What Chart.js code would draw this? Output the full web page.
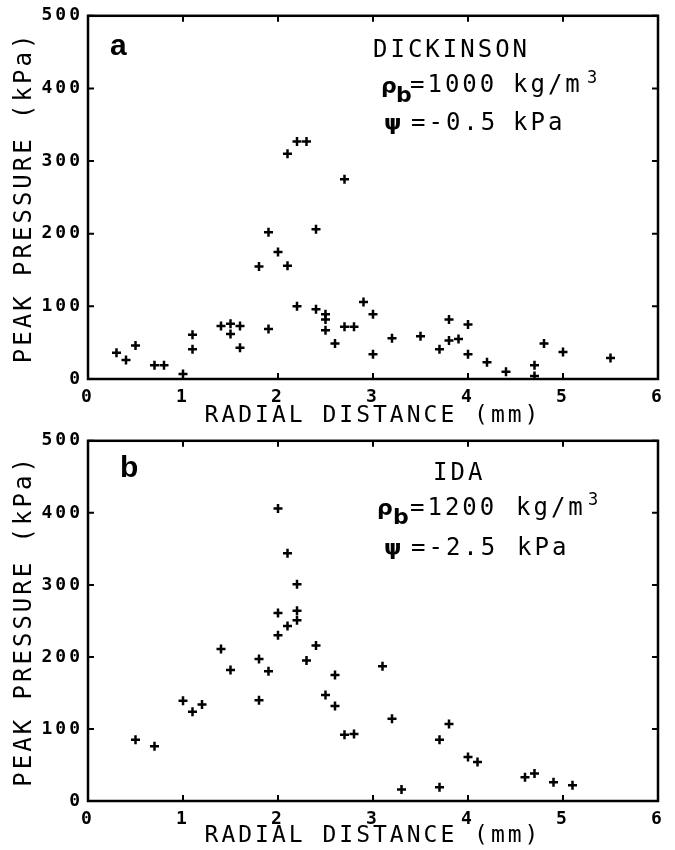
<!doctype html>
<html lang="en">
<head>
<meta charset="utf-8">
<title>Peak pressure vs radial distance</title>
<script src="https://cdn.jsdelivr.net/npm/chart.js"></script>
<style>
body { margin: 0; background: #fff; }
.panel { width: 675px; height: 425px; }
canvas { display: block; }
</style>
</head>
<body>
<div class="panel"><canvas id="chartA" width="675" height="425"></canvas></div>
<div class="panel"><canvas id="chartB" width="675" height="425"></canvas></div>

<script>
// panel a - DICKINSON
const distA = [0.3, 0.4, 0.5, 0.7, 0.8, 1.0, 1.1, 1.1, 1.4, 1.5, 1.5, 1.6, 1.6,
  1.8, 1.9, 1.9, 2.0, 2.1, 2.1, 2.2, 2.3, 2.2, 2.4, 2.4, 2.5, 2.5, 2.5, 2.6,
  2.7, 2.7, 2.8, 2.9, 3.0, 3.0, 3.2, 3.5, 3.7, 3.8, 3.8, 3.9, 4.0, 4.0, 4.2,
  4.4, 4.7, 4.7, 4.8, 5.0, 5.5];
const pressureA = [36, 26, 46, 19, 19, 7, 61, 41, 73, 76, 62, 73, 43,
  155, 202, 69, 175, 156, 310, 327, 327, 100, 206, 96, 89, 82, 67, 49,
  275, 72, 72, 106, 89, 34, 56, 59, 41, 82, 53, 55, 75, 34, 23,
  10, 19, 4, 49, 37, 29];

// panel b - IDA
const distB = [0.5, 0.7, 1.0, 1.1, 1.2, 1.4, 1.5, 1.8, 1.8, 1.9, 2.0, 2.0, 2.0,
  2.1, 2.1, 2.2, 2.2, 2.2, 2.3, 2.4, 2.5, 2.6, 2.6, 2.7, 2.8, 3.1, 3.2, 3.3,
  3.7, 3.7, 3.8, 4.0, 4.1, 4.6, 4.7, 4.9, 5.1];
const pressureB = [85, 76, 139, 124, 134, 211, 182, 197, 140, 180, 406, 261, 230,
  344, 243, 301, 264, 251, 195, 216, 147, 175, 132, 92, 93, 187, 114, 16,
  85, 19, 107, 61, 54, 33, 38, 26, 22];

const xTicks = [0, 1, 2, 3, 4, 5, 6];
const yTicks = [0, 100, 200, 300, 400, 500];
const xTitle = 'RADIAL DISTANCE (mm)';
const yTitle = 'PEAK PRESSURE (kPa)';

const monoFont = '"DejaVu Sans Mono", monospace';

// box round the plot and inward tick marks on all four sides
const framePlugin = {
  id: 'frame',
  beforeDraw(chart) {
    chart.ctx.letterSpacing = '3px';
  },
  afterDraw(chart, args, opts) {
    const ctx = chart.ctx;
    const {left, right, top, bottom} = chart.chartArea;
    const xs = chart.scales.x, ys = chart.scales.y;
    ctx.save();
    ctx.letterSpacing = '0px';
    ctx.strokeStyle = '#000';
    ctx.lineWidth = 2.5;
    ctx.strokeRect(left, top, right - left, bottom - top);
    ctx.lineWidth = 2;
    ctx.beginPath();
    xTicks.forEach(v => {
      const px = xs.getPixelForValue(v);
      ctx.moveTo(px, bottom); ctx.lineTo(px, bottom - 6);
      ctx.moveTo(px, top); ctx.lineTo(px, top + 6);
    });
    yTicks.forEach(v => {
      const py = ys.getPixelForValue(v);
      ctx.moveTo(left, py); ctx.lineTo(left + 6, py);
      ctx.moveTo(right, py); ctx.lineTo(right - 6, py);
    });
    ctx.stroke();

    // panel letter
    ctx.fillStyle = '#000';
    ctx.textBaseline = 'alphabetic';
    ctx.font = 'bold 30px "Liberation Sans", Arial, sans-serif';
    ctx.fillText(opts.letter, opts.letterX, opts.letterY);

    // annotation block
    ctx.letterSpacing = '3px';
    ctx.textBaseline = 'middle';
    opts.lines.forEach(seg => {
      ctx.font = seg.font;
      ctx.fillText(seg.text, seg.x, seg.y);
    });
    ctx.restore();
  }
};

function makeChart(id, xs, ys, o) {
  const pts = xs.map((x, i) => ({x: x, y: ys[i]}));
  return new Chart(document.getElementById(id), {
    type: 'scatter',
    data: {
      datasets: [{
        data: pts,
        pointStyle: 'cross',
        pointRadius: 4.5,
        pointBorderWidth: 2.5,
        borderColor: '#000',
        backgroundColor: '#000'
      }]
    },
    options: {
      responsive: false,
      animation: false,
      layout: {padding: {left: 0, right: 17, top: o.top, bottom: 0}},
      plugins: {
        legend: {display: false},
        tooltip: {enabled: false},
        frame: o.frame
      },
      scales: {
        x: {
          type: 'linear',
          min: 0, max: 6,
          afterBuildTicks: s => { s.ticks = xTicks.map(v => ({value: v})); },
          grid: {display: false, drawTicks: false},
          border: {display: false},
          ticks: {
            color: '#000', padding: 8,
            font: {family: monoFont, size: 18, weight: 'bold'}
          },
          title: {
            display: true, text: xTitle, color: '#000',
            font: {family: monoFont, size: 23, lineHeight: 0.8},
            padding: {top: 0, bottom: o.xTitlePad}
          },
          afterFit: s => { s.height = o.xHeight; }
        },
        y: {
          type: 'linear',
          min: 0, max: 500,
          afterBuildTicks: s => { s.ticks = yTicks.map(v => ({value: v})); },
          grid: {display: false, drawTicks: false},
          border: {display: false},
          ticks: {
            color: '#000', padding: 5,
            font: {family: monoFont, size: 18, weight: 'bold'}
          },
          title: {
            display: true, text: yTitle, color: '#000',
            font: {family: monoFont, size: 24, lineHeight: 1},
            padding: {top: 13, bottom: 0}
          },
          afterFit: s => { s.width = 88; }
        }
      }
    },
    plugins: [framePlugin]
  });
}

const annFont = '24px ' + monoFont;
const boldFont = 'bold 22px "DejaVu Sans", sans-serif';

makeChart('chartA', distA, pressureA, {
  top: 14, xHeight: 46, xTitlePad: 0,
  frame: {
    letter: 'a', letterX: 110, letterY: 55,
    lines: [
      {text: 'DICKINSON', x: 373, y: 51, font: annFont},
      {text: 'ρ', x: 381, y: 87, font: boldFont},
      {text: 'b', x: 396, y: 96, font: boldFont},
      {text: '=1000', x: 410, y: 86, font: annFont},
      {text: 'kg/m', x: 513, y: 86, font: annFont},
      {text: '3', x: 587, y: 79, font: '17px ' + monoFont},
      {text: 'ψ', x: 384, y: 124, font: boldFont},
      {text: '=-0.5', x: 411, y: 124, font: annFont},
      {text: 'kPa', x: 513, y: 124, font: annFont}
    ]
  }
});

makeChart('chartB', distB, pressureB, {
  top: 12, xHeight: 49, xTitlePad: 5,
  frame: {
    letter: 'b', letterX: 120, letterY: 52,
    lines: [
      {text: 'IDA', x: 433, y: 49, font: annFont},
      {text: 'ρ', x: 377, y: 84, font: boldFont},
      {text: 'b', x: 393, y: 93, font: boldFont},
      {text: '=1200', x: 410, y: 84, font: annFont},
      {text: 'kg/m', x: 516, y: 84, font: annFont},
      {text: '3', x: 588, y: 76, font: '17px ' + monoFont},
      {text: 'ψ', x: 384, y: 124, font: boldFont},
      {text: '=-2.5', x: 411, y: 124, font: annFont},
      {text: 'kPa', x: 517, y: 124, font: annFont}
    ]
  }
});
</script>
</body>
</html>
